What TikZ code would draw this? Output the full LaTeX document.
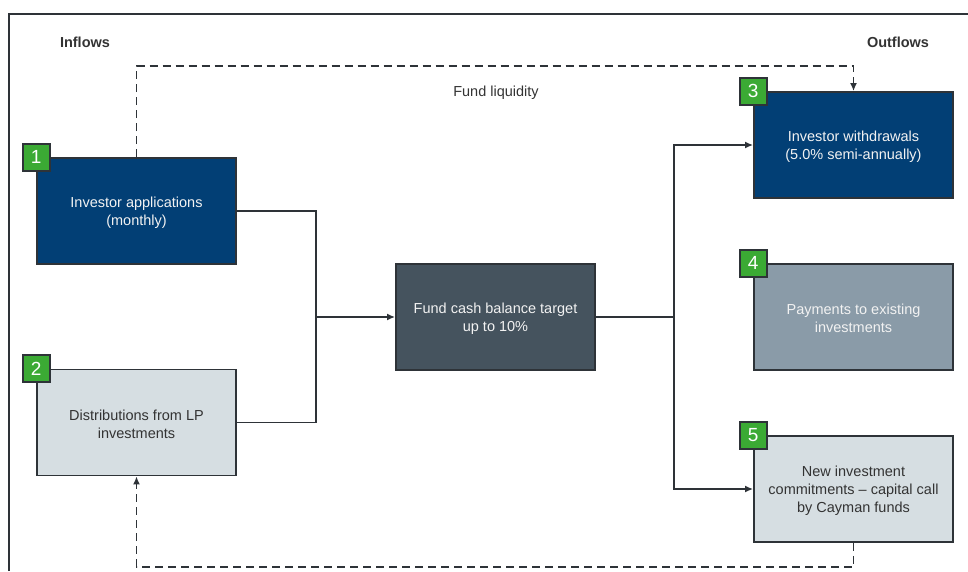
\documentclass[tikz,border=0pt]{standalone}
\usepackage{fontspec}
\setmainfont{Liberation Sans}
\usetikzlibrary{arrows.meta}
\definecolor{dblue}{HTML}{023F75}
\definecolor{slate}{HTML}{45535E}
\definecolor{grayblue}{HTML}{8A9BA8}
\definecolor{lgray}{HTML}{D6DEE2}
\definecolor{edge}{HTML}{2E3338}
\definecolor{gbadge}{HTML}{3BAA34}
\definecolor{dtext}{HTML}{333333}
\definecolor{ltext}{HTML}{F2F2F2}
\tikzset{
  box/.style={draw=edge, line width=1.8pt, minimum width=199pt, minimum height=106pt, inner sep=0pt, align=center, font=\fontsize{14.5}{18}\selectfont},
  darkbox/.style={box, fill=dblue, text=ltext},
  centerbox/.style={box, fill=slate, text=ltext},
  midbox/.style={box, fill=grayblue, text=ltext},
  lightbox/.style={box, fill=lgray, text=dtext},
  badge/.style={draw=edge, line width=1.8pt, fill=gbadge, text=white, minimum width=27pt, minimum height=27pt, inner sep=0pt, font=\fontsize{19}{19}\selectfont},
  conn/.style={draw=edge, line width=1.8pt},
  arr/.style={conn, -{Latex[length=8pt,width=7pt]}},
  darr/.style={conn, dash pattern=on 8pt off 5pt, -{Latex[length=8pt,width=7pt]}},
  head/.style={font=\bfseries\fontsize{14.5}{16}\selectfont, text=dtext},
  lab/.style={font=\fontsize{14.5}{16}\selectfont, text=dtext}
}
\begin{document}
\begin{tikzpicture}[x=1pt,y=-1pt]
\useasboundingbox (0,0) rectangle (968,571);
\draw[edge, line width=1.5pt] (9,571) -- (9,14) -- (968,14);
\node[head] (inflows) at (85,42) {Inflows};
\node[head] (outflows) at (898,42) {Outflows};
\node[lab] (liq) at (496,93) {Fund liquidity};
\node[darkbox] (b1) at (136.5,211) {\rule{0pt}{14pt}Investor applications\\(monthly)};
\node[lightbox] (b2) at (136.5,422.5) {\rule{0pt}{14pt}Distributions from LP\\investments};
\node[centerbox] (c) at (495.5,317) {\rule{0pt}{14pt}Fund cash balance target\\up to 10\%};
\node[darkbox] (b3) at (853.5,145) {\rule{0pt}{14pt}Investor withdrawals\\(5.0\% semi-annually)};
\node[midbox] (b4) at (853.5,317) {\rule{0pt}{14pt}Payments to existing\\investments};
\node[lightbox] (b5) at (853.5,489) {\rule{0pt}{14pt}New investment\\commitments -- capital call\\by Cayman funds};
\node[badge] (n1) at (b1.north west) {1};
\node[badge] (n2) at (b2.north west) {2};
\node[badge] (n3) at (b3.north west) {3};
\node[badge] (n4) at (b4.north west) {4};
\node[badge] (n5) at (b5.north west) {5};
\coordinate (jL) at (316,317);
\coordinate (jR) at (674,317);
\draw[conn] (b2.east) -| (jL);
\draw[arr] (b1.east) -| (jL) -- (c.west);
\draw[conn] (c.east) -- (jR);
\draw[arr] (jR) |- (b3.west);
\draw[arr] (jR) |- (b5.west);
\draw[darr] (b1.north) -- ++(0,-91) -| (b3.north);
\draw[darr] (b5.south) -- ++(0,24) -| (b2.south);
\end{tikzpicture}
\end{document}
